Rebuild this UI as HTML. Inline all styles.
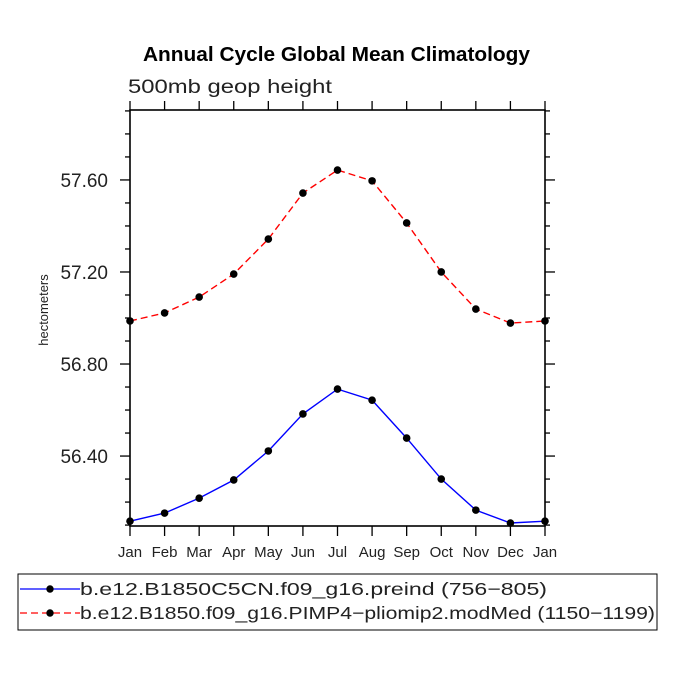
<!DOCTYPE html>
<html><head><meta charset="utf-8"><style>
body{margin:0;background:#fff;}
svg text{font-family:"Liberation Sans",sans-serif;}
</style></head><body>
<svg id="chart" width="675" height="675" viewBox="0 0 675 675" xmlns="http://www.w3.org/2000/svg">
<text x="143" y="61" font-size="20" font-weight="bold" fill="#000" textLength="387" lengthAdjust="spacingAndGlyphs">Annual Cycle Global Mean Climatology</text>
<text x="128" y="93" font-size="19" fill="#222" textLength="204" lengthAdjust="spacingAndGlyphs">500mb geop height</text>
<text transform="translate(48,310) rotate(-90)" text-anchor="middle" font-size="13" fill="#222">hectometers</text>
<g id="axes"></g>
<g id="series"></g>
<rect x="18" y="574" width="639" height="56" fill="none" stroke="#000" stroke-width="1"/>
<g>
<line x1="20" y1="589" x2="80" y2="589" stroke="#0000ff" stroke-width="1.3"/>
<circle cx="50" cy="589" r="3.7" fill="#000"/>
<text x="80" y="595" font-size="17.5" fill="#222" textLength="467" lengthAdjust="spacingAndGlyphs">b.e12.B1850C5CN.f09_g16.preind (756−805)</text>
</g>
<g>
<line x1="20" y1="613" x2="80" y2="613" stroke="#ff0000" stroke-width="1.3" stroke-dasharray="7,4"/>
<circle cx="50" cy="613" r="3.7" fill="#000"/>
<text x="80" y="619" font-size="17.5" fill="#222" textLength="575" lengthAdjust="spacingAndGlyphs">b.e12.B1850.f09_g16.PIMP4−pliomip2.modMed (1150−1199)</text>
</g>
</svg>
<script>
const months = ["Jan","Feb","Mar","Apr","May","Jun","Jul","Aug","Sep","Oct","Nov","Dec","Jan"];
const preindValues = [56.117,56.152,56.217,56.296,56.422,56.583,56.691,56.643,56.478,56.300,56.165,56.109,56.117];
const pliomipValues = [56.987,57.022,57.091,57.191,57.343,57.543,57.643,57.596,57.413,57.200,57.039,56.978,56.987];
const yTicks = [56.40,56.80,57.20,57.60];
const yTickLabels = ["56.40","56.80","57.20","57.60"];

const NS="http://www.w3.org/2000/svg";
const L=130,R=545,T=110,B=526;
const yMin=56.096,yMax=57.904;
function xs(i){return L+(R-L)*i/(months.length-1);}
function ys(v){return B-(v-yMin)/(yMax-yMin)*(B-T);}
function mk(tag,attrs,parent){const e=document.createElementNS(NS,tag);for(const k in attrs)e.setAttribute(k,attrs[k]);parent.appendChild(e);return e;}
const axes=document.getElementById('axes');
const frame=mk('rect',{x:L,y:T,width:R-L,height:B-T,fill:'none',stroke:'#000','stroke-width':1.6},axes);


months.forEach((m,i)=>{
  const x=xs(i);
  mk('line',{x1:x,y1:B,x2:x,y2:B+10,stroke:'#000','stroke-width':1.3},axes);
  mk('line',{x1:x,y1:T,x2:x,y2:T-9,stroke:'#000','stroke-width':1.3},axes);
  const t=mk('text',{x:x,y:B+31,'text-anchor':'middle','font-size':'15',fill:'#222'},axes);
  t.textContent=m;
  
  
});
for(let v=56.1;v<=57.9001;v+=0.1){
  const y=ys(v);
  const major=yTicks.some(t=>Math.abs(t-v)<1e-6);
  const len=major?10:5;
  mk('line',{x1:L-len,y1:y,x2:L,y2:y,stroke:'#000','stroke-width':1.3},axes);
  mk('line',{x1:R,y1:y,x2:R+len,y2:y,stroke:'#000','stroke-width':1.3},axes);
}
yTicks.forEach((v,i)=>{
  const t=mk('text',{x:108,y:ys(v)+7,'text-anchor':'end','font-size':'19',fill:'#222'},axes);
  t.textContent=yTickLabels[i];
  
  
});
const series=document.getElementById('series');
function draw(vals,color,dash,name){
  const g=mk('g',{},series);
  
  
  const pts=vals.map((v,i)=>xs(i)+','+ys(v)).join(' ');
  const attrs={points:pts,fill:'none',stroke:color,'stroke-width':1.4};
  if(dash)attrs['stroke-dasharray']=dash;
  mk('polyline',attrs,g);
  vals.forEach((v,i)=>{
    const c=mk('circle',{cx:xs(i),cy:ys(v),r:3.8,fill:'#000'},g);
    
    
  });
}
draw(pliomipValues,'#ff0000','7,4','series-pliomip2');
draw(preindValues,'#0000ff',null,'series-preind');
</script>
</body></html>
